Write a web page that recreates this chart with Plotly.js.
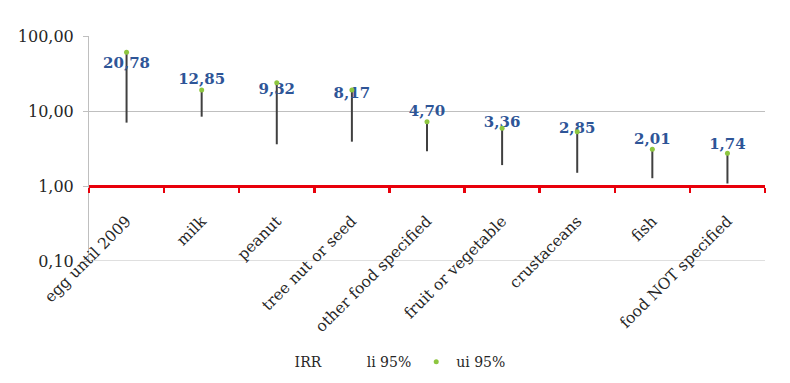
<!DOCTYPE html>
<html>
<head>
<meta charset="utf-8">
<script src="https://cdn.plot.ly/plotly-3.0.1.min.js"></script>
<style>html,body{margin:0;padding:0;background:#fff;}#chart{width:790px;height:383px;}</style>
</head>
<body>
<div id="chart"></div>
<script>
const categories = ["egg until 2009", "milk", "peanut", "tree nut or seed", "other food specified",
  "fruit or vegetable", "crustaceans", "fish", "food NOT specified"];
const irr = [20.78, 12.85, 9.32, 8.17, 4.70, 3.36, 2.85, 2.01, 1.74];
const li95 = [7.0, 8.4, 3.6, 3.9, 2.9, 1.9, 1.5, 1.27, 1.08];
const ui95 = [60.6, 19.1, 23.8, 19.0, 7.2, 5.9, 5.3, 3.08, 2.73];
const yTickVals = [0.1, 1, 10, 100];

const serif = "DejaVu Serif, serif";

const traces = [
  {
    name: "IRR", type: "scatter", mode: "markers+text",
    x: categories, y: irr,
    marker: {size: 23, color: "rgba(0,0,0,0)"},
    texttemplate: "%{y:.2f}", textposition: "top center",
    textfont: {family: serif, size: 15, color: "#2E5597", weight: "bold"},
    error_y: {type: "data", symmetric: false,
      array: ui95.map((u, i) => u - irr[i]),
      arrayminus: li95.map((l, i) => irr[i] - l),
      color: "#404040", thickness: 2, width: 0},
    hoverinfo: "x+y"
  },
  {
    name: "li 95%", type: "scatter", mode: "markers",
    x: categories, y: li95,
    marker: {size: 4, color: "rgba(0,0,0,0)"}
  },
  {
    name: "ui 95%", type: "scatter", mode: "markers",
    x: categories, y: ui95,
    marker: {size: 5, color: "#8DC63F", symbol: "circle"}
  }
];

const layout = {
  width: 790, height: 383,
  margin: {l: 89, r: 25, t: 36, b: 122, autoexpand: false},
  paper_bgcolor: "#fff", plot_bgcolor: "#fff",
  separators: ",.",
  showlegend: true,
  legend: {orientation: "h", x: 0.245, xanchor: "left", y: -0.45, yanchor: "middle",
    font: {family: serif, size: 14, color: "#262626"}, itemwidth: 30},
  xaxis: {
    type: "category", anchor: "free", position: 1/3, automargin: false,
    showline: true, linecolor: "#E8000B", linewidth: 3,
    ticks: "outside", tickson: "boundaries", ticklen: 5, tickwidth: 2.5, tickcolor: "#E8000B",
    tickangle: -45, ticklabelstandoff: 18,
    tickfont: {family: serif, size: 15.5, color: "#262626"},
    showgrid: false, zeroline: false, range: [-0.5, 8.5]
  },
  yaxis: {
    type: "log", range: [-1, 2], automargin: false,
    tickvals: yTickVals, tickformat: ".2f",
    showline: true, linecolor: "#BFBFBF", linewidth: 1,
    ticks: "outside", ticklen: 5, tickcolor: "#BFBFBF",
    ticklabelstandoff: 6,
    tickfont: {family: serif, size: 16, color: "#262626"},
    showgrid: true, gridcolor: "#BFBFBF", gridwidth: 1, zeroline: false
  },
  shapes: [
    {type: "line", xref: "paper", yref: "y", x0: 0, x1: 1, y0: yTickVals[0], y1: yTickVals[0],
     line: {color: "#BFBFBF", width: 1}, layer: "below"}
  ]
};

Plotly.newPlot("chart", traces, layout, {displayModeBar: false, staticPlot: true});
</script>
</body>
</html>
